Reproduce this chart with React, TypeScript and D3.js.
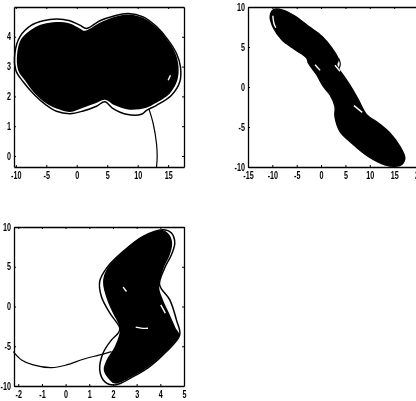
import React, { useEffect, useRef } from 'react';
import * as d3 from 'd3';

type Pt = [number, number];

// panel 1 (x against z)
const xzOuter: Pt[] = [
  [1.6, 4.28], [3.79, 4.54], [5.97, 4.69], [8.44, 4.78], [10.9, 4.67], [13.09, 4.34], [15.0, 3.89], [16.37, 3.44],
  [17.02, 2.99], [16.91, 2.49], [15.55, 2.04], [13.09, 1.7], [11.44, 1.53], [10.62, 1.4], [8.16, 1.4], [5.97, 1.59],
  [4.61, 1.82], [3.24, 1.67], [1.05, 1.51], [-1.14, 1.42], [-3.33, 1.5], [-4.97, 1.7], [-6.88, 2.04], [-8.8, 2.49],
  [-10, 2.88], [-10.16, 3.44], [-9.34, 4.0], [-7.43, 4.39], [-5.51, 4.54], [-3.33, 4.6], [-1.14, 4.54], [0.5, 4.39],
];
const xzInner: Pt[] = [
  [1.32, 4.2], [3.79, 4.47], [6.25, 4.67], [8.44, 4.75], [10.9, 4.64], [13.09, 4.31], [15, 3.86], [16.2, 3.44],
  [16.7, 2.99], [16.5, 2.54], [15.27, 2.1], [12.81, 1.76], [11.44, 1.62], [8.44, 1.56], [6.25, 1.7], [4.61, 1.89],
  [2.97, 1.76], [1.05, 1.62], [-1.14, 1.48], [-3.33, 1.59], [-4.97, 1.76], [-6.88, 2.1], [-8.52, 2.54], [-9.62, 2.88],
  [-9.78, 3.44], [-9.07, 3.94], [-7.16, 4.28], [-5.51, 4.43], [-3.33, 4.5], [-1.14, 4.45], [0.5, 4.28],
];
const xzTail: Pt[] = [[11.83, 1.59], [12.54, 1.09], [13.09, 0.41], [13.2, -0.03], [13.09, -0.37]];
const xzGaps: Pt[][] = [[[15.0, 2.54], [15.38, 2.71]]];

// panel 2 (x against y)
const xyOuter: Pt[] = [
  [-9.75, 9.67], [-7.7, 9.58], [-5.32, 8.83], [-2.59, 7.58], [0.14, 6.33], [2.18, 4.88], [3.54, 3.42], [3.2, 2.79],
  [4.91, 1.13], [6.27, -0.13], [7.63, -1.58], [9.34, -3.46], [11.72, -4.5], [14.11, -5.75], [16.16, -7.42],
  [17.18, -8.88], [16.5, -9.71], [15.13, -9.92], [13.09, -9.71], [9.68, -8.67], [6.27, -7.0], [3.89, -5.54],
  [2.86, -3.67], [2.86, -2.42], [1.84, -0.96], [0.48, 0.08], [-0.89, 1.54], [-2.59, 3.0], [-2.93, 3.63],
  [-5.32, 4.67], [-8.04, 5.92], [-9.75, 7.38], [-10.43, 8.83],
];
const xyTail: Pt[] = [[3.6, 3.6], [3.95, 2.9], [3.7, 2.3]];
const xyGaps: Pt[][] = [
  [[-1.23, 2.79], [-0.2, 2.08]],
  [[2.86, 2.71], [3.89, 1.96]],
  [[6.75, -2.33], [8.45, -3.17]],
  [[-9.9, 8.9], [-9.7, 8.0], [-9.3, 7.4]],
];

// panel 3 (z against y)
const zyOuter: Pt[] = [
  [4.11, 9.66], [4.47, 9.24], [4.61, 7.98], [4.47, 6.51], [4.18, 4.83], [3.97, 2.73], [4.4, 0.84], [4.68, -1.68],
  [4.82, -3.57], [4.26, -5.67], [3.55, -7.56], [2.85, -8.82], [2.08, -9.87], [1.65, -9.45], [1.44, -7.98],
  [1.58, -5.88], [1.94, -4.2], [2.22, -3.36], [2.29, -2.73], [1.87, -0.84], [1.51, 1.26], [1.44, 3.15], [1.73, 4.83],
  [2.43, 6.93], [3.27, 8.82],
];
const zyInner: Pt[] = [
  [4.11, 9.6], [4.38, 9.03], [4.5, 7.98], [4.4, 6.51], [4.14, 4.83], [3.95, 2.44], [4.11, 0.84], [4.4, -1.05],
  [4.65, -2.73], [4.8, -3.57], [4.26, -5.6], [3.55, -7.48], [2.85, -8.75], [2.08, -9.7], [1.8, -9.03],
  [1.61, -7.98], [1.73, -6.72], [2.08, -5.04], [2.29, -3.03], [2.22, -2.1], [2.0, -0.84], [1.73, 1.05], [1.58, 3.15],
  [1.75, 4.75], [2.43, 6.9], [3.27, 8.8],
];
const zyTail: Pt[] = [
  [-2.21, -5.67], [-1.86, -6.72], [-1.37, -7.35], [-0.59, -7.69], [0.04, -7.35], [0.74, -6.64], [1.44, -6.09], [1.94, -5.67],
];
const zyGaps: Pt[][] = [
  [[2.43, 2.44], [2.57, 1.89]],
  [[4.02, 0.21], [4.21, -0.84]],
  [[2.96, -2.6], [3.25, -2.75], [3.48, -2.73]],
];

const xTicks1 = [-10, -5, 0, 5, 10, 15];
const yTicks1 = [0, 1, 2, 3, 4];
const xTicks2 = [-15, -10, -5, 0, 5, 10, 15, 20];
const yTicks2 = [-10, -5, 0, 5, 10];
const xTicks3 = [-2, -1, 0, 1, 2, 3, 4, 5];

const panels = [
  {
    id: 'xz', left: 14, right: 184, top: 7, bottom: 167,
    xDomain: [-10.3, 17.6], yDomain: [-0.37, 5.0],
    xTicks: xTicks1, yTicks: yTicks1,
    outer: xzOuter, inner: xzInner, tail: xzTail, gaps: xzGaps,
  },
  {
    id: 'xy', left: 248, right: 418.5, top: 7, bottom: 167,
    xDomain: [-15, 20], yDomain: [-10, 10],
    xTicks: xTicks2, yTicks: yTicks2,
    outer: xyOuter, inner: xyOuter, tail: xyTail, gaps: xyGaps,
  },
  {
    id: 'zy', left: 14, right: 184, top: 227, bottom: 386,
    xDomain: [-2.18, 5], yDomain: [-10, 10],
    xTicks: xTicks3, yTicks: yTicks2,
    outer: zyOuter, inner: zyInner, tail: zyTail, gaps: zyGaps,
  },
];

const App = () => {
  const ref = useRef<SVGSVGElement>(null);

  useEffect(() => {
    const svg = d3.select(ref.current);
    svg.selectAll('*').remove();

    panels.forEach(p => {
      const x = d3.scaleLinear().domain(p.xDomain).range([p.left, p.right]);
      const y = d3.scaleLinear().domain(p.yDomain).range([p.bottom, p.top]);
      const g = svg.append('g').attr('id', p.id);

      const closed = d3.line<Pt>().x(d => x(d[0])).y(d => y(d[1])).curve(d3.curveCatmullRomClosed);
      const open = d3.line<Pt>().x(d => x(d[0])).y(d => y(d[1])).curve(d3.curveCatmullRom);

      g.append('path').attr('d', closed(p.outer)).attr('fill', 'none').attr('stroke', '#000').attr('stroke-width', 1.5);
      g.append('path').attr('d', closed(p.inner)).attr('fill', '#000');
      g.append('path').attr('d', open(p.tail)).attr('fill', 'none').attr('stroke', '#000').attr('stroke-width', 1.2);
      p.gaps.forEach(gap => {
        g.append('path').attr('d', open(gap)).attr('fill', 'none').attr('stroke', '#fff').attr('stroke-width', 1.4);
      });

      const label = (d: d3.NumberValue) => String(d);
      const axes = [
        { a: d3.axisBottom(x).tickValues(p.xTicks).tickSizeInner(-2).tickPadding(5).tickFormat(label), at: [0, p.bottom] },
        { a: d3.axisTop(x).tickValues(p.xTicks).tickSizeInner(-2).tickFormat(() => ''), at: [0, p.top] },
        { a: d3.axisLeft(y).tickValues(p.yTicks).tickSizeInner(-2).tickPadding(3).tickFormat(label), at: [p.left, 0] },
        { a: d3.axisRight(y).tickValues(p.yTicks).tickSizeInner(-2).tickFormat(() => ''), at: [p.right, 0] },
      ];
      axes.forEach(({ a, at }) => {
        const ag = g.append('g').attr('transform', `translate(${at[0]},${at[1]})`).call(a.tickSizeOuter(0));
        ag.select('.domain').attr('stroke-width', 1.3);
        ag.selectAll<SVGTextElement, unknown>('text')
          .attr('font-family', '"Liberation Sans", sans-serif')
          .attr('font-weight', 'bold')
          .attr('font-size', 10)
          .each(function () {
            // the scanned labels are much narrower than any installed bold face
            const w = this.getComputedTextLength();
            if (w > 0) {
              this.setAttribute('textLength', String(w * 0.72));
              this.setAttribute('lengthAdjust', 'spacingAndGlyphs');
            }
          });
      });
    });
  }, []);

  return (
    <svg
      ref={ref}
      width={416}
      height={401}
      style={{ position: 'absolute', left: 0, top: 0, background: '#fff', filter: 'blur(0.35px)' }}
    />
  );
};

export default App;
